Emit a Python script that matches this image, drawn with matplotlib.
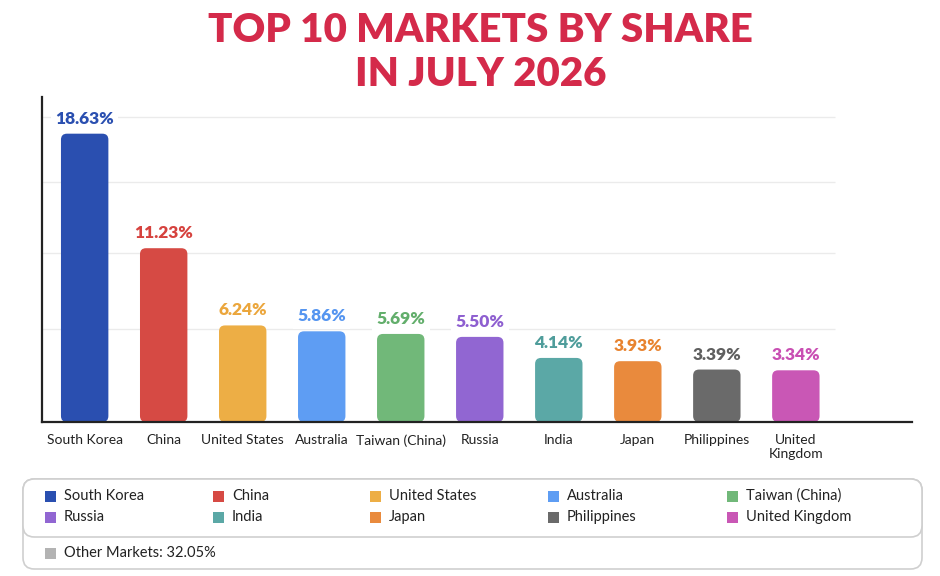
import matplotlib
matplotlib.use("Agg")
import matplotlib.pyplot as plt
from matplotlib.patches import FancyBboxPatch, Rectangle

markets = ["South Korea", "China", "United States", "Australia", "Taiwan (China)",
           "Russia", "India", "Japan", "Philippines", "United Kingdom"]
tick_labels = ["South Korea", "China", "United States", "Australia", "Taiwan (China)",
               "Russia", "India", "Japan", "Philippines", "United\nKingdom"]
shares = [18.63, 11.23, 6.24, 5.86, 5.69, 5.50, 4.14, 3.93, 3.39, 3.34]
colors = ["#2a4fb0", "#d64a44", "#edae45", "#5e9df3", "#71b879",
          "#9166d2", "#5ba8a6", "#e98a3d", "#6a6a6a", "#c957b5"]
label_colors = ["#2a4fb0", "#d6423e", "#eba63c", "#5595f0", "#62ae6b",
                "#8e5fd0", "#4f9d9b", "#e8832f", "#5f5f5f", "#c94fb3"]
other_share = 32.05
other_color = "#b3b3b3"
grid_levels = [6.0, 10.9, 15.5, 19.7]

W, H = 940, 576
fig = plt.figure(figsize=(W / 100, H / 100), dpi=100)
fig.patch.set_facecolor("white")

sans = ["Lato", "DejaVu Sans"]

# title
fig.text(0.511, 1 - 30 / H, "TOP 10 MARKETS BY SHARE", ha="center", va="center",
         fontsize=29, fontweight="heavy", family=sans, color="#d42a4a")
fig.text(0.511, 1 - 74 / H, "IN JULY 2026", ha="center", va="center",
         fontsize=29, fontweight="heavy", family=sans, color="#d42a4a")

ax = fig.add_axes([42 / W, 1 - 422 / H, 870 / W, 325 / H])
x = list(range(len(markets)))
ax.set_xlim(-0.54, 10.47)
ax.set_ylim(0, 21)

# pixel size of one data unit, to keep corners round
p0 = ax.transData.transform((0, 0))
p1 = ax.transData.transform((1, 1))
ux, uy = p1[0] - p0[0], p1[1] - p0[1]
r_px = 6
rx = r_px / ux
aspect = (r_px / uy) / rx

bar_w = 0.6
ax.hlines(grid_levels, -0.54, 9.5, color="#ebebeb", lw=1, zorder=0)
for xi, v, c, lc in zip(x, shares, colors, label_colors):
    ax.add_patch(FancyBboxPatch((xi - bar_w / 2, 0), bar_w, v,
                                boxstyle=f"round,pad=0,rounding_size={rx}",
                                mutation_aspect=aspect, fc=c, ec="none", zorder=2))
    ax.annotate(f"{v:.2f}%", (xi, v), xytext=(0, 5), textcoords="offset points",
                ha="center", va="bottom", fontsize=12.5, fontweight="heavy",
                family=sans, color=lc, zorder=3,
                bbox=dict(boxstyle="square,pad=0.25", fc="white", ec="none"))

for s in ["top", "right"]:
    ax.spines[s].set_visible(False)
ax.spines["left"].set_linewidth(1.6)
ax.spines["bottom"].set_linewidth(1.6)
ax.spines["left"].set_color("#222222")
ax.spines["bottom"].set_color("#222222")
ax.set_yticks([])
ax.set_xticks(x)
ax.set_xticklabels(tick_labels, fontsize=10, family=sans, color="#222222",
                   linespacing=1.15, va="top")
ax.tick_params(axis="x", length=0, pad=9)


def fx(px):
    return px / W


def fy(py):
    return 1 - py / H


# legend boxes
outer = FancyBboxPatch((fx(23), fy(569)), fx(922) - fx(23), fy(479) - fy(569),
                       boxstyle="round,pad=0,rounding_size=0.012", transform=fig.transFigure,
                       fc="white", ec="#cfcfcf", lw=1.2, mutation_aspect=W / H)
inner = FancyBboxPatch((fx(23), fy(537)), fx(922) - fx(23), fy(479) - fy(537),
                       boxstyle="round,pad=0,rounding_size=0.012", transform=fig.transFigure,
                       fc="white", ec="#cfcfcf", lw=1.2, mutation_aspect=W / H)
fig.patches.extend([outer, inner])

col_x = [45, 213, 370, 548, 727]
row_y = [496, 517]
sq = 11
for i, (name, c) in enumerate(zip(markets, colors)):
    cx = col_x[i % 5]
    cy = row_y[i // 5]
    fig.patches.append(Rectangle((fx(cx), fy(cy + sq / 2)), sq / W, sq / H,
                                 transform=fig.transFigure, fc=c, ec="none"))
    fig.text(fx(cx + 19), fy(cy), name, ha="left", va="center", fontsize=10.5,
             family=sans, color="#222222")

fig.patches.append(Rectangle((fx(45), fy(553 + sq / 2)), sq / W, sq / H,
                             transform=fig.transFigure, fc=other_color, ec="none"))
fig.text(fx(64), fy(553), f"Other Markets: {other_share:.2f}%", ha="left", va="center",
         fontsize=10.5, family=sans, color="#222222")

fig.savefig("out.png", dpi=100, facecolor="white")
